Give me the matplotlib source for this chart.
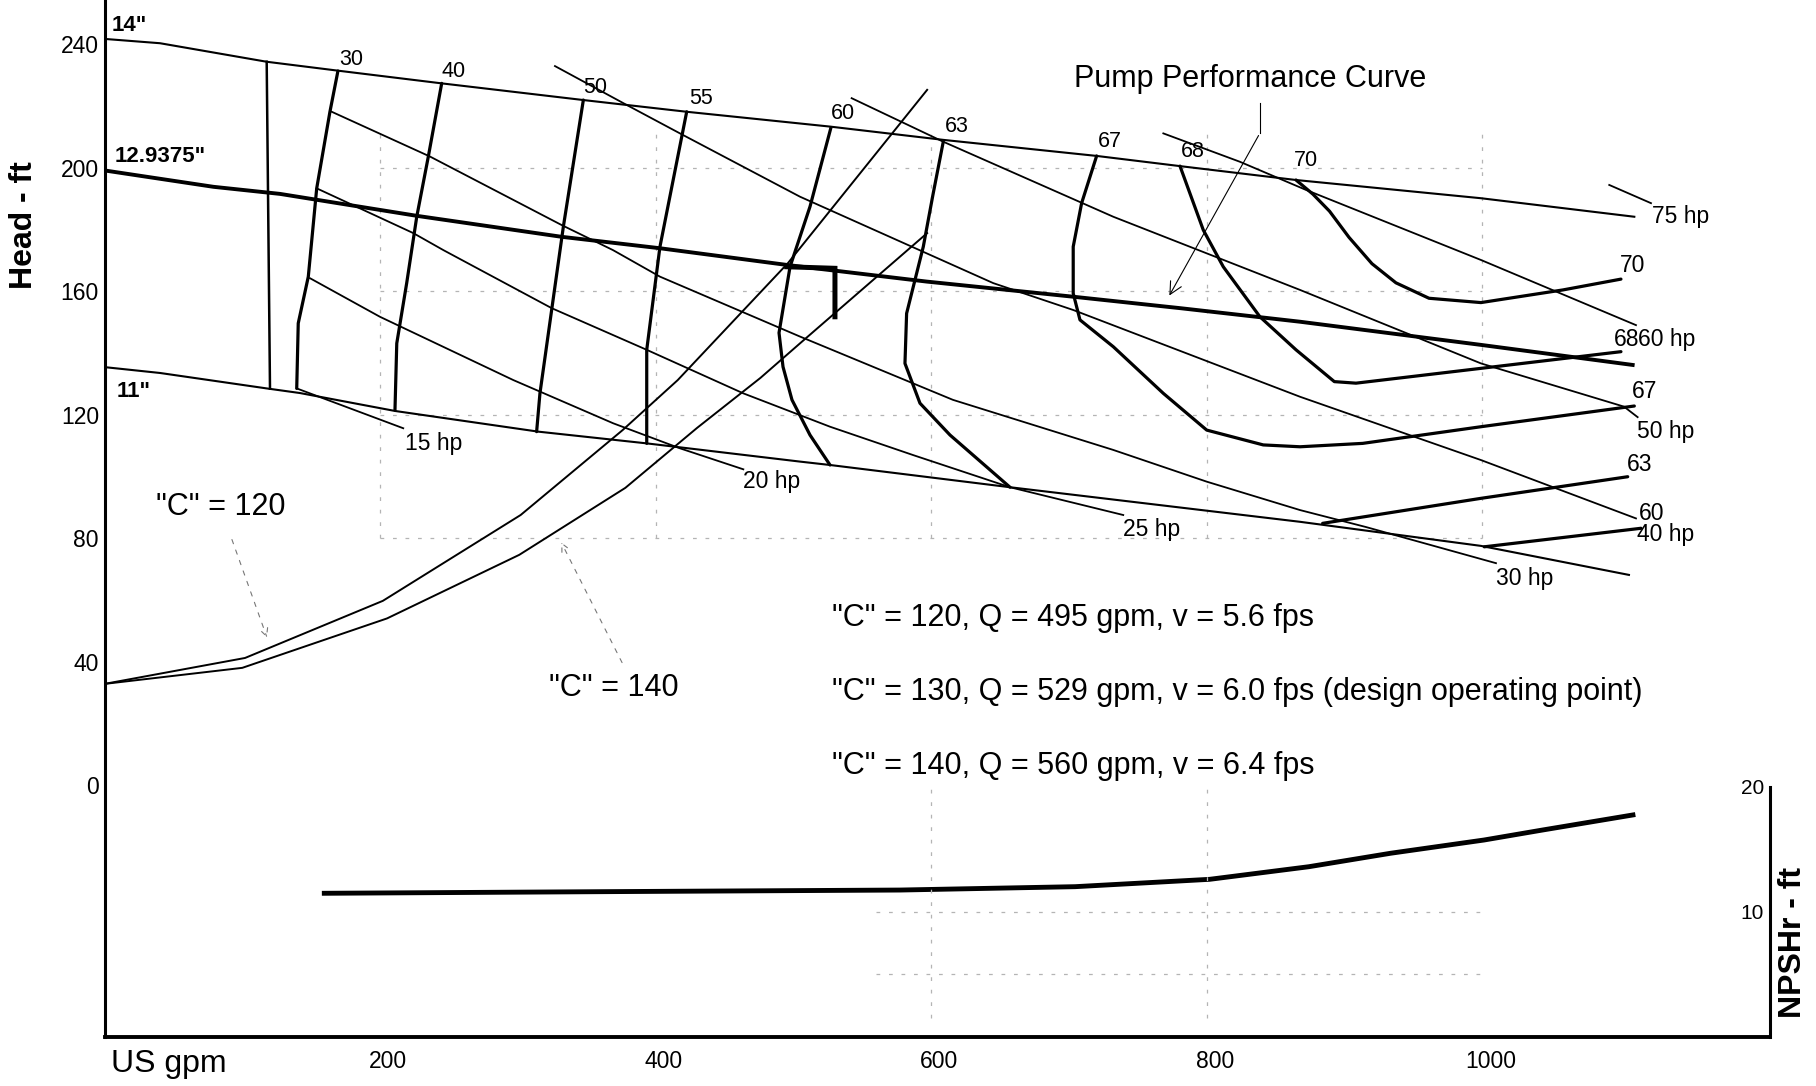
import matplotlib
matplotlib.use('Agg')
import matplotlib.pyplot as plt
from matplotlib.transforms import ScaledTranslation

plt.rcParams['font.family'] = ['Liberation Sans', 'DejaVu Sans']

# ---------------- data (US gpm, head ft) ----------------
q_14 = [0, 40.3, 117.7, 169.7, 244.7, 347.5, 422.5, 526.5, 608.7, 720.0, 780.5, 864.7, 998.9, 1110.2]
h_14 = [241.8, 240.4, 234.4, 231.5, 227.4, 222.0, 218.2, 213.4, 209.1, 203.9, 200.6, 196.1, 190.2, 184.2]

q_129 = [0, 79.0, 127.4, 226.6, 331.8, 403.1, 495.1, 596.7, 703.0, 780.5, 867.6, 998.9, 1109.0]
h_129 = [199.2, 193.9, 191.6, 184.5, 177.7, 174.0, 168.6, 163.2, 158.3, 154.6, 150.2, 142.7, 136.2]

q_11 = [0, 40.3, 117.7, 141.9, 210.8, 314.8, 393.5, 504.7, 526.5, 657.1, 867.6, 998.9, 1106.3]
h_11 = [135.5, 133.6, 128.6, 127.1, 121.3, 114.6, 110.8, 104.9, 103.8, 96.6, 85.4, 77.6, 68.2]

q_minflow = [117.7, 120.1]
h_minflow = [234.4, 128.5]

# efficiency contours (%)
e30_q = [169.4, 163.6, 154.0, 147.9, 140.6, 139.5]
e30_h = [231.4, 218.2, 193.4, 164.8, 149.7, 128.6]
e40_q = [244.7, 235.0, 226.6, 219.3, 212.1, 210.8]
e40_h = [227.4, 203.7, 184.2, 162.7, 143.2, 121.6]
e50_q = [347.5, 333.0, 324.5, 316.0, 313.6]
e50_h = [222.0, 181.0, 154.0, 127.0, 114.6]
e55_q = [422.5, 418.9, 403.1, 393.5, 393.5]
e55_h = [218.2, 210.1, 174.5, 141.1, 110.8]
e60_q = [527.2, 512.0, 497.5, 489.5, 492.4, 498.9, 512.0, 526.5]
e60_h = [213.1, 187.5, 168.0, 146.6, 135.6, 124.9, 113.5, 103.8]
e60r_q = [1001.3, 1115.0]
e60r_h = [77.3, 83.3]
e63_q = [608.7, 601.2, 594.2, 582.1, 580.9, 591.8, 613.6, 657.1]
e63_h = [208.5, 191.3, 174.5, 152.9, 136.7, 123.8, 113.5, 96.6]
e63r_q = [884.0, 998.9, 1105.4]
e63r_h = [84.9, 93.0, 100.0]
e67_q = [720.0, 709.1, 703.0, 703.0, 707.9, 732.1, 768.4, 799.9, 840.9, 867.6, 913.1, 999.0, 1110.2]
e67_h = [203.9, 188.6, 174.5, 159.4, 150.8, 142.1, 127.0, 115.1, 110.3, 109.7, 110.8, 116.2, 122.9]
e68_q = [780.5, 797.4, 811.9, 838.5, 864.7, 892.5, 908.2, 998.9, 1100.5]
e68_h = [200.6, 179.9, 168.0, 151.8, 141.1, 130.8, 130.3, 135.1, 140.5]
e70_q = [864.7, 877.0, 889.0, 903.2, 919.8, 937.2, 961.2, 998.9, 1058.4, 1100.5]
e70_h = [196.1, 191.5, 186.0, 177.5, 169.0, 162.8, 157.8, 156.4, 160.5, 164.0]

eff_curves = [(e30_q, e30_h), (e40_q, e40_h), (e50_q, e50_h), (e55_q, e55_h),
              (e60_q, e60_h), (e60r_q, e60r_h), (e63_q, e63_h), (e63r_q, e63r_h),
              (e67_q, e67_h), (e68_q, e68_h), (e70_q, e70_h)]

# horsepower lines
hp15_q = [139.5, 216.8]
hp15_h = [128.6, 115.7]
hp20_q = [149.1, 199.9, 296.7, 369.2, 417.6, 463.6]
hp20_h = [164.3, 151.8, 131.3, 117.3, 109.2, 102.4]
hp25_q = [154.0, 224.1, 245.9, 324.5, 393.5, 463.6, 526.5, 586.9, 657.1, 739.3]
hp25_h = [193.4, 178.9, 173.4, 154.6, 141.1, 127.0, 116.2, 107.0, 96.6, 87.6]
hp30_q = [164.9, 236.2, 331.8, 369.0, 403.1, 504.7, 615.7, 731.9, 799.9, 867.6, 915.5, 1009.8]
hp30_h = [218.2, 203.7, 181.5, 173.4, 164.8, 145.4, 124.9, 108.7, 98.4, 89.2, 83.7, 72.0]
hp40_q = [326.9, 379.0, 417.6, 504.7, 645.0, 703.0, 867.6, 998.9, 1111.4]
hp40_h = [233.0, 220.4, 211.2, 190.7, 162.7, 154.0, 125.9, 105.4, 86.5]
hp50_q = [542.2, 608.7, 732.1, 867.6, 998.9, 1102.7, 1112.6]
hp50_h = [222.6, 208.5, 184.2, 160.5, 136.7, 122.7, 119.3]
hp60_q = [768.4, 824.0, 871.9, 998.9, 1111.4]
hp60_h = [211.2, 202.0, 192.9, 170.2, 149.1]
hp75_q = [1092.0, 1122.3]
hp75_h = [194.5, 188.6]

hp_lines = [(hp15_q, hp15_h), (hp20_q, hp20_h), (hp25_q, hp25_h), (hp30_q, hp30_h),
            (hp40_q, hp40_h), (hp50_q, hp50_h), (hp60_q, hp60_h), (hp75_q, hp75_h)]

# system curves
sys120_q = [0, 102, 202, 302, 376, 416, 496, 597]
sys120_h = [32.9, 41.3, 59.8, 87.6, 115.1, 131.3, 169.2, 225.3]
sys140_q = [0, 100, 205, 301, 378, 430, 476, 505, 597]
sys140_h = [32.9, 38.1, 54.1, 74.7, 96.4, 115.8, 132.0, 143.3, 178.9]

# operating range bracket
op_q = [495.1, 530.1, 530.1]
op_h = [168.0, 167.5, 151.8]

# NPSHr (ft)
npsh_q = [159.5, 361.6, 577.3, 704.4, 802.0, 874.0, 933.4, 1001.1, 1043.5, 1109.2]
npsh_v = [11.48, 11.61, 11.74, 12.01, 12.60, 13.61, 14.69, 15.75, 16.55, 17.76]

x_ticks = [200, 400, 600, 800, 1000]
y_ticks = [0, 40, 80, 120, 160, 200, 240]
npsh_ticks = [10, 20]

# labels: (text, gpm, head)
eff_top_labels = [('30', 178.7, 235.2), ('40', 253.6, 231.2), ('50', 356.0, 226.1),
                  ('55', 432.7, 222.6), ('60', 536.1, 217.7), ('63', 618.4, 213.4),
                  ('67', 729.7, 208.5), ('68', 789.7, 205.3), ('70', 871.9, 202.3)]
right_labels = [('75 hp', 1144.0, 184.2), ('70', 1109.0, 168.3), ('68', 1104.5, 144.5),
                ('60 hp', 1134.0, 144.5), ('67', 1117.4, 127.5), ('50 hp', 1133.2, 114.6),
                ('63', 1113.8, 103.8), ('60', 1123.0, 88.2), ('40 hp', 1133.2, 81.4),
                ('30 hp', 1031.0, 67.1), ('15 hp', 238.6, 110.8), ('20 hp', 484.2, 98.4),
                ('25 hp', 760.0, 82.8)]
imp_labels = [('14"', 5.5, 246.0), ('12.9375"', 7.6, 203.7), ('11"', 8.9, 127.5)]

# ---------------- figure ----------------
W, H = 1816, 1086
fig = plt.figure(figsize=(W / 100, H / 100), dpi=100)
ax = fig.add_axes([104.5 / W, 49.5 / H, 1665 / W, 1036.5 / H])
ax.set_xlim(0, 1208.3)
ax.set_ylim(-81.3, 254.4)

# faint grid fragments
gcol = '#b4b4b4'
gdash = (0, (3, 7))
ax.vlines(x_ticks, 80, 212, colors=gcol, lw=0.9, linestyles=[gdash])
ax.hlines([80, 120, 160, 200], 200, 1000, colors=gcol, lw=0.9, linestyles=[gdash])

# impeller curves
ax.plot(q_14, h_14, color='black', lw=1.5)
ax.plot(q_129, h_129, color='black', lw=2.8)
ax.plot(q_11, h_11, color='black', lw=1.5)
ax.plot(q_minflow, h_minflow, color='black', lw=1.8)

for q, h in eff_curves:
    ax.plot(q, h, color='black', lw=2.3, solid_capstyle='round', solid_joinstyle='round')
for q, h in hp_lines:
    ax.plot(q, h, color='black', lw=1.3)

ax.plot(sys120_q, sys120_h, color='black', lw=1.4)
ax.plot(sys140_q, sys140_h, color='black', lw=1.4)
ax.plot(op_q, op_h, color='black', lw=3.6, solid_joinstyle='miter')

# texts
for t, q, h in eff_top_labels:
    ax.text(q, h, t, fontsize=15.5, ha='center', va='center')
for t, q, h in right_labels:
    ax.text(q, h, t, fontsize=16.5, ha='center', va='center')
for t, q, h in imp_labels:
    ax.text(q, h, t, fontsize=16, ha='left', va='center', fontweight='bold')

ax.text(84.5, 90.3, '"C" = 120', fontsize=22, ha='center', va='center')
ax.text(369.8, 31.6, '"C" = 140', fontsize=22, ha='center', va='center')
ax.text(527.6, 54.4, '"C" = 120, Q = 495 gpm, v = 5.6 fps', fontsize=22, ha='left', va='center')
ax.text(527.6, 30.4, '"C" = 130, Q = 529 gpm, v = 6.0 fps (design operating point)', fontsize=22,
        ha='left', va='center')
ax.text(527.6, 6.4, '"C" = 140, Q = 560 gpm, v = 6.4 fps', fontsize=22, ha='left', va='center')
ax.text(831.7, 228.7, 'Pump Performance Curve', fontsize=22, ha='center', va='center')

# arrows
ax.plot([838.5, 838.5], [221.0, 211.3], color='black', lw=0.8)
ax.annotate('', xy=(771.8, 157.9), xytext=(838.5, 211.3),
            arrowprops=dict(arrowstyle='->', color='black', lw=0.8, mutation_scale=22))
ax.annotate('', xy=(118.6, 47.1), xytext=(91.8, 80.5),
            arrowprops=dict(arrowstyle='->', color='#777777', lw=0.8, ls=(0, (4, 6)), mutation_scale=14))
ax.annotate('', xy=(330.6, 79.5), xytext=(376.5, 39.0),
            arrowprops=dict(arrowstyle='->', color='#777777', lw=0.8, ls=(0, (4, 6)), mutation_scale=14))

# axes styling
for s in ['top', 'right']:
    ax.spines[s].set_visible(False)
ax.spines['left'].set_linewidth(2.2)
ax.spines['bottom'].set_linewidth(2.8)
ax.set_xticks(x_ticks)
ax.set_yticks(y_ticks)
ax.tick_params(axis='both', length=0, labelsize=16.5)
ax.tick_params(axis='y', pad=4)
ax.tick_params(axis='x', pad=10)
shift = ScaledTranslation(0.08, 0, fig.dpi_scale_trans)
for lab in ax.get_xticklabels():
    lab.set_transform(lab.get_transform() + shift)

# NPSHr axis
ax2 = ax.twinx()
ax2.set_ylim(0, 1036.5 / 12.475)
for s in ['top', 'left', 'bottom']:
    ax2.spines[s].set_visible(False)
ax2.spines['right'].set_bounds(0, 20)
ax2.spines['right'].set_linewidth(2.2)
ax2.set_yticks(npsh_ticks)
ax2.tick_params(axis='y', length=0, labelsize=15, pad=-4)
for lab in ax2.get_yticklabels():
    lab.set_horizontalalignment('right')
ax2.plot(npsh_q, npsh_v, color='black', lw=3.5)
ax2.vlines([600, 800], 1.5, 20.5, colors=gcol, lw=0.9, linestyles=[gdash])
ax2.hlines([5, 10], 560, 1000, colors=gcol, lw=0.9, linestyles=[gdash])

fig.text(24 / W, 1 - 225 / H, 'Head - ft', rotation=90, fontsize=23, fontweight='bold',
         ha='center', va='center')
fig.text(1793 / W, 1 - 942 / H, 'NPSHr - ft', rotation=90, fontsize=23, fontweight='bold',
         ha='center', va='center')
fig.text(111 / W, 1 - 1072 / H, 'US gpm', fontsize=23, ha='left', va='baseline',
         family=['Liberation Sans Narrow', 'Liberation Sans', 'DejaVu Sans'])

fig.savefig('out.png', dpi=100, facecolor='white')
